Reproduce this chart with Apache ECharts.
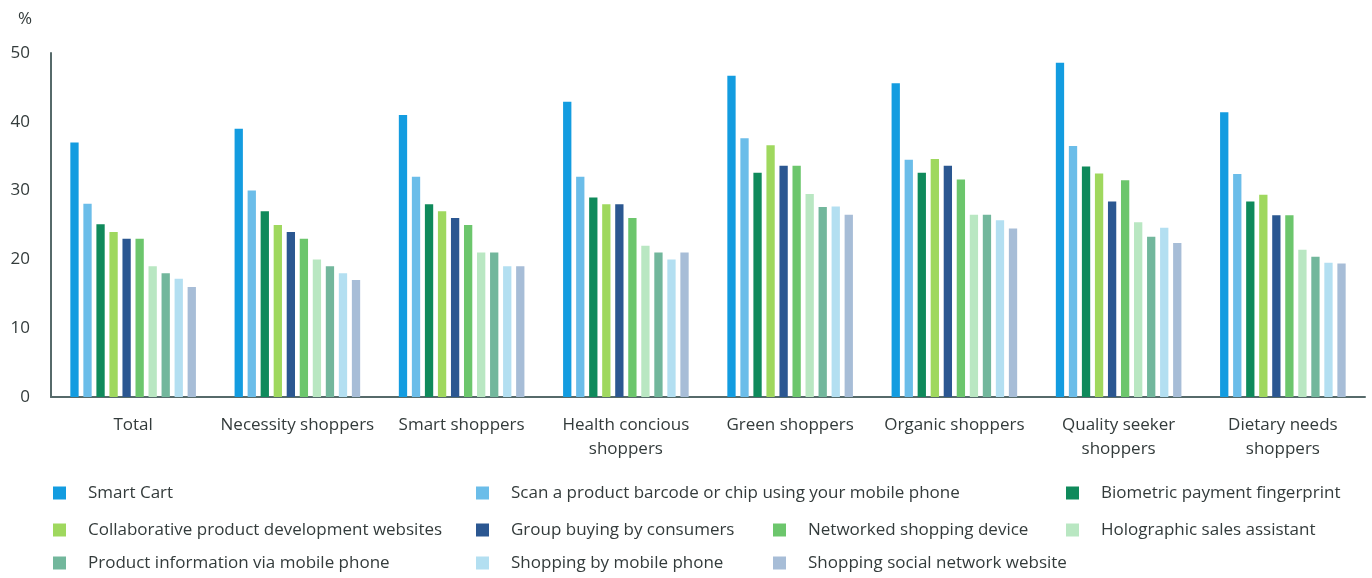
<!DOCTYPE html>
<html>
<head>
<meta charset="utf-8">
<script src="https://cdn.jsdelivr.net/npm/echarts@6/dist/echarts.min.js"></script>
<style>
  html, body { margin: 0; padding: 0; background: #ffffff; }
  #chart { width: 1372px; height: 578px; }
</style>
</head>
<body>
<div id="chart"></div>
<script>
// Shopper segments along the x axis
const categories = [
  'Total', 'Necessity shoppers', 'Smart shoppers', 'Health concious\nshoppers',
  'Green shoppers', 'Organic shoppers', 'Quality seeker\nshoppers', 'Dietary needs\nshoppers'
];

// Share of shoppers interested in each technology, %
const smartCart       = [37.0, 39.0, 41.0, 42.9, 46.7, 45.6, 48.6, 41.4];
const scanBarcode     = [28.1, 30.0, 32.0, 32.0, 37.6, 34.5, 36.5, 32.4];
const biometric       = [25.1, 27.0, 28.0, 29.0, 32.6, 32.6, 33.5, 28.4];
const collaborative   = [24.0, 25.0, 27.0, 28.0, 36.6, 34.6, 32.5, 29.4];
const groupBuying     = [23.0, 24.0, 26.0, 28.0, 33.6, 33.6, 28.4, 26.4];
const networked       = [23.0, 23.0, 25.0, 26.0, 33.6, 31.6, 31.5, 26.4];
const holographic     = [19.0, 20.0, 21.0, 22.0, 29.5, 26.5, 25.4, 21.4];
const productInfo     = [18.0, 19.0, 21.0, 21.0, 27.6, 26.5, 23.3, 20.4];
const shoppingMobile  = [17.2, 18.0, 19.0, 20.0, 27.7, 25.7, 24.6, 19.5];
const socialNetwork   = [16.0, 17.0, 19.0, 21.0, 26.5, 24.5, 22.4, 19.4];

const seriesNames = [
  'Smart Cart',
  'Scan a product barcode or chip using your mobile phone',
  'Biometric payment fingerprint',
  'Collaborative product development websites',
  'Group buying by consumers',
  'Networked shopping device',
  'Holographic sales assistant',
  'Product information via mobile phone',
  'Shopping by mobile phone',
  'Shopping social network website'
];
const seriesValues = [
  smartCart, scanBarcode, biometric, collaborative, groupBuying,
  networked, holographic, productInfo, shoppingMobile, socialNetwork
];
const seriesColors = [
  '#139ce0', '#6bbde9', '#0f8a5b', '#9fd85e', '#2b5791',
  '#6cc66c', '#b9e7c2', '#72b79c', '#b3dff1', '#a7bdd7'
];

// Y axis tick values
const yTicks = [0, 10, 20, 30, 40, 50];

const FONT = 'Open Sans';
const TEXT = '#333b3b';

// Legend slots: [series index, icon left, row center y]
const legendSlots = [
  [0, 53, 493], [1, 476, 493], [2, 1066, 493],
  [3, 53, 530], [4, 476, 530], [5, 773, 530], [6, 1066, 530],
  [7, 53, 563], [8, 476, 563], [9, 773, 563]
];

const chart = echarts.init(document.getElementById('chart'), null, { renderer: 'canvas' });

const option = {
  backgroundColor: '#ffffff',
  animation: false,
  textStyle: { fontFamily: FONT },
  title: {
    text: '%',
    left: 13,
    top: 6,
    textStyle: { fontFamily: FONT, fontSize: 17, fontWeight: 'normal', color: TEXT }
  },
  grid: { left: 51, right: 7, top: 53, bottom: 181, containLabel: false },
  legend: legendSlots.map(([i, x, y]) => ({
    data: [seriesNames[i]],
    left: x,
    top: y - 10,
    padding: 0,
    itemWidth: 13,
    itemHeight: 13,
    icon: 'rect',
    selectedMode: false,
    textStyle: {
      fontFamily: FONT, fontSize: 17, color: TEXT,
      lineHeight: 20, padding: [0, 0, 0, 17]
    }
  })),
  xAxis: {
    type: 'category',
    data: categories,
    axisLine: { lineStyle: { color: '#566a6a', width: 2 } },
    axisTick: { show: false },
    axisLabel: {
      interval: 0,
      margin: 16,
      fontFamily: FONT,
      fontSize: 17,
      lineHeight: 24,
      color: TEXT
    }
  },
  yAxis: {
    type: 'value',
    min: yTicks[0],
    max: yTicks[yTicks.length - 1],
    interval: 10,
    axisLine: { show: true, lineStyle: { color: '#566a6a', width: 2 } },
    axisTick: { show: false },
    splitLine: { show: false },
    axisLabel: {
      margin: 21,
      fontFamily: FONT,
      fontSize: 17,
      color: TEXT
    }
  },
  series: seriesNames.map((name, i) => ({
    name: name,
    type: 'bar',
    data: seriesValues[i],
    barWidth: 8.3,
    barGap: '57%',
    itemStyle: { color: seriesColors[i] }
  }))
};

chart.setOption(option);
</script>
</body>
</html>
